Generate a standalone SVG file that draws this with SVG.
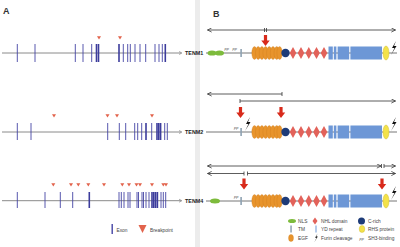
<svg xmlns="http://www.w3.org/2000/svg" xmlns:xlink="http://www.w3.org/1999/xlink" width="400" height="247" viewBox="0 0 400 247">
<style>
.gl{stroke:#8a8a8a;stroke-width:1;fill:none}
.ex{stroke:#4545a5;stroke-width:0.9}
.exk{stroke:#3c3c9c;stroke-width:1.6}
.bp{fill:#e2634c}
.lbl{font-family:"Liberation Sans",Arial,sans-serif;font-weight:bold;font-size:5.4px;fill:#222}
.pan{font-family:"Liberation Sans",Arial,sans-serif;font-weight:bold;font-size:9px;fill:#333}
.lg{font-family:"Liberation Sans",Arial,sans-serif;font-size:4.8px;fill:#444}
.pp{font-family:"Liberation Sans",Arial,sans-serif;font-style:italic;font-size:4px;fill:#444}
.pl{stroke:#777;stroke-width:1;fill:none}
.rng{stroke:#333;stroke-width:0.8;fill:none}
.tk{stroke:#333;stroke-width:0.8}
.egf{fill:#e8942c;stroke:#c77817;stroke-width:0.3}
.nhl{fill:#e2625a}
.cr{fill:#1d3b78}
.yd{fill:#6d97d6}
.rhs{fill:#f3e24a;stroke:#c9b52c;stroke-width:0.4}
.nls{fill:#7dbb3c}
.tm{fill:#8ea2b2}
.red{fill:#d82a1b}
.bolt{fill:#111}
</style>
<defs>
<marker id="ah" viewBox="0 0 6 6" refX="5.5" refY="3" markerWidth="5" markerHeight="5" markerUnits="userSpaceOnUse" orient="auto-start-reverse">
<path d="M0.5,0.5 L5.5,3 L0.5,5.5" fill="none" stroke="#333" stroke-width="0.9"/>
</marker>
<path id="bolt" d="M2.5,0 L-1.5,7 L1,7 L-2.5,14 L3,5 L0.5,5 Z"/>
<path id="rarr" d="M-1.6,0 H1.6 V5.5 H4.2 L0,11 L-4.2,5.5 H-1.6 Z"/>
<path id="tri" d="M-2,0 H2 L0,3.2 Z"/>
<g id="egfs">
<ellipse cx="254.5" cy="0" rx="2.7" ry="6.5"/>
<ellipse cx="258.2" cy="0" rx="2.7" ry="6.5"/>
<ellipse cx="261.9" cy="0" rx="2.7" ry="6.5"/>
<ellipse cx="265.6" cy="0" rx="2.7" ry="6.5"/>
<ellipse cx="269.3" cy="0" rx="2.7" ry="6.5"/>
<ellipse cx="273" cy="0" rx="2.7" ry="6.5"/>
<ellipse cx="276.7" cy="0" rx="2.7" ry="6.5"/>
<ellipse cx="279.6" cy="0" rx="2.7" ry="6.5"/>
</g>
<g id="core">
<use xlink:href="#egfs" class="egf"/>
<circle cx="285.5" cy="0" r="4.2" class="cr"/>
<path class="nhl" d="M293,-6 L296.3,0 L293,6 L289.7,0 Z M301,-6 L304.3,0 L301,6 L297.7,0 Z M308.8,-6 L312.1,0 L308.8,6 L305.5,0 Z M316.5,-6 L319.8,0 L316.5,6 L313.2,0 Z M324,-6 L327.3,0 L324,6 L320.7,0 Z"/>
<rect class="yd" x="328.5" y="-6.5" width="4.3" height="13"/>
<rect class="yd" x="333.8" y="-6.5" width="2.6" height="13"/>
<rect class="yd" x="337.6" y="-6.5" width="11.6" height="13"/>
<rect class="yd" x="350.4" y="-6.5" width="31.6" height="13"/>
<ellipse class="rhs" cx="386" cy="0" rx="3" ry="7"/>
<rect class="tm" x="240.3" y="-4" width="1.6" height="8"/>
</g>
</defs>

<rect x="195" y="0" width="5" height="247" fill="#ececec"/>
<text class="pan" x="3" y="14">A</text>
<text class="pan" x="213" y="17">B</text>

<!-- Panel A: gene structures -->
<g id="geneA_TENM1">
<line class="gl" x1="2" y1="53" x2="181" y2="53"/>
<path d="M179,51.5 L182,53 L179,54.5" fill="none" stroke="#8a8a8a" stroke-width="0.7"/>
<g class="ex">
<line x1="17.3" y1="44" x2="17.3" y2="62"/><line x1="35" y1="44" x2="35" y2="62"/>
<line x1="75.3" y1="44" x2="75.3" y2="62"/><line x1="83" y1="44" x2="83" y2="62"/>
<line x1="91.7" y1="44" x2="91.7" y2="62"/>
<line x1="123.3" y1="44" x2="123.3" y2="62"/><line x1="127.7" y1="44" x2="127.7" y2="62"/>
<line x1="130.3" y1="44" x2="130.3" y2="62"/><line x1="135" y1="44" x2="135" y2="62"/>
<line x1="140" y1="44" x2="140" y2="62"/><line x1="145.7" y1="44" x2="145.7" y2="62"/>
<line x1="155" y1="44" x2="155" y2="62"/><line x1="159" y1="44" x2="159" y2="62"/>
<line x1="162.3" y1="44" x2="162.3" y2="62"/>
</g>
<g class="exk">
<line x1="96.5" y1="44" x2="96.5" y2="62"/><line x1="98.5" y1="44" x2="98.5" y2="62"/>
<line x1="119" y1="44" x2="119" y2="62"/><line x1="165.3" y1="44" x2="165.3" y2="62"/>
</g>
<g class="bp"><use xlink:href="#tri" x="99" y="36.3"/><use xlink:href="#tri" x="120" y="36.3"/></g>
<text class="lbl" x="185" y="55">TENM1</text>
</g>

<g id="geneA_TENM2">
<line class="gl" x1="2" y1="132" x2="181" y2="132"/>
<path d="M179,130.5 L182,132 L179,133.5" fill="none" stroke="#8a8a8a" stroke-width="0.7"/>
<g class="ex">
<line x1="17.3" y1="123" x2="17.3" y2="140"/><line x1="31" y1="123" x2="31" y2="140"/>
<line x1="107.7" y1="123" x2="107.7" y2="140"/><line x1="119.3" y1="123" x2="119.3" y2="140"/>
<line x1="125.7" y1="123" x2="125.7" y2="140"/><line x1="134.7" y1="123" x2="134.7" y2="140"/>
<line x1="137.7" y1="123" x2="137.7" y2="140"/><line x1="141.7" y1="123" x2="141.7" y2="140"/>
<line x1="151.7" y1="123" x2="151.7" y2="140"/>
<line x1="164.7" y1="123" x2="164.7" y2="140"/><line x1="167.3" y1="123" x2="167.3" y2="140"/>
</g>
<g class="exk">
<line x1="146" y1="123" x2="146" y2="140"/>
<line x1="157" y1="123" x2="157" y2="140"/><line x1="158.8" y1="123" x2="158.8" y2="140"/>
<line x1="160.6" y1="123" x2="160.6" y2="140"/>
</g>
<g class="bp"><use xlink:href="#tri" x="54" y="114.2"/><use xlink:href="#tri" x="107.5" y="114.2"/><use xlink:href="#tri" x="117" y="114.2"/><use xlink:href="#tri" x="152" y="114.2"/></g>
<text class="lbl" x="185" y="134">TENM2</text>
</g>

<g id="geneA_TENM4">
<line class="gl" x1="2" y1="200.7" x2="181" y2="200.7"/>
<path d="M179,199.2 L182,200.7 L179,202.2" fill="none" stroke="#8a8a8a" stroke-width="0.7"/>
<g class="ex">
<line x1="17.3" y1="192" x2="17.3" y2="208"/><line x1="45" y1="192" x2="45" y2="208"/>
<line x1="60.3" y1="192" x2="60.3" y2="208"/><line x1="72.7" y1="192" x2="72.7" y2="208"/>
<line x1="119" y1="192" x2="119" y2="208"/><line x1="121.3" y1="192" x2="121.3" y2="208"/>
<line x1="124" y1="192" x2="124" y2="208"/><line x1="128" y1="192" x2="128" y2="208"/>
<line x1="130" y1="192" x2="130" y2="208"/><line x1="137" y1="192" x2="137" y2="208"/>
<line x1="138.5" y1="192" x2="138.5" y2="208"/><line x1="142" y1="192" x2="142" y2="208"/>
<line x1="143.5" y1="192" x2="143.5" y2="208"/><line x1="146" y1="192" x2="146" y2="208"/>
<line x1="149" y1="192" x2="149" y2="208"/><line x1="161" y1="192" x2="161" y2="208"/>
<line x1="163.3" y1="192" x2="163.3" y2="208"/><line x1="165.7" y1="192" x2="165.7" y2="208"/>
</g>
<g class="exk">
<line x1="89.3" y1="192" x2="89.3" y2="208"/>
<line x1="152" y1="192" x2="152" y2="208"/><line x1="153.8" y1="192" x2="153.8" y2="208"/>
<line x1="155.6" y1="192" x2="155.6" y2="208"/><line x1="157.4" y1="192" x2="157.4" y2="208"/>
</g>
<g class="bp">
<use xlink:href="#tri" x="53.3" y="183.2"/><use xlink:href="#tri" x="71" y="183.2"/><use xlink:href="#tri" x="78.3" y="183.2"/>
<use xlink:href="#tri" x="88.3" y="183.2"/><use xlink:href="#tri" x="104" y="183.2"/><use xlink:href="#tri" x="122.3" y="183.2"/>
<use xlink:href="#tri" x="129" y="183.2"/><use xlink:href="#tri" x="136.5" y="183.2"/><use xlink:href="#tri" x="140" y="183.2"/>
<use xlink:href="#tri" x="152" y="183.2"/><use xlink:href="#tri" x="163.3" y="183.2"/><use xlink:href="#tri" x="166" y="183.2"/>
</g>
<text class="lbl" x="185" y="203">TENM4</text>
</g>

<g id="legendA">
<rect x="111.5" y="224" width="1.4" height="10" fill="#4545a5"/>
<text class="lg" x="116.5" y="232">Exon</text>
<path class="bp" d="M138.5,225 H146.5 L142.5,233 Z"/>
<text class="lg" x="150" y="232">Breakpoint</text>
</g>

<!-- Panel B: protein structures -->
<g id="protB_TENM1">
<line class="pl" x1="206" y1="53" x2="397" y2="53"/>
<ellipse class="nls" cx="212" cy="53" rx="4.5" ry="2.6"/>
<ellipse class="nls" cx="219.5" cy="53" rx="4.5" ry="2.6"/>
<text class="pp" x="224.5" y="50">pp</text>
<text class="pp" x="232.5" y="50">pp</text>
<use xlink:href="#core" y="53"/>
<use xlink:href="#bolt" class="bolt" x="393.5" y="41"/>
</g>

<g id="protB_TENM2">
<line class="pl" x1="206" y1="132" x2="397" y2="132"/>
<text class="pp" x="234" y="129">pp</text>
<use xlink:href="#core" y="132"/>
<use xlink:href="#bolt" class="bolt" x="247.5" y="117"/>
<use xlink:href="#bolt" class="bolt" x="393.5" y="117"/>
</g>

<g id="protB_TENM4">
<line class="pl" x1="206" y1="201" x2="397" y2="201"/>
<ellipse class="nls" cx="215" cy="201" rx="5" ry="2.5"/>
<text class="pp" x="234" y="197.5">pp</text>
<use xlink:href="#core" y="201"/>
<use xlink:href="#bolt" class="bolt" x="393.5" y="186"/>
</g>

<g id="connectors">
<line class="rng" x1="207.5" y1="30" x2="395.5" y2="30" marker-start="url(#ah)" marker-end="url(#ah)"/>
<line class="tk" x1="264.5" y1="28" x2="264.5" y2="32"/><line class="tk" x1="266.5" y1="28" x2="266.5" y2="32"/>
<use xlink:href="#rarr" class="red" x="265.5" y="35"/>

<line class="rng" x1="207.5" y1="94" x2="282" y2="94" marker-start="url(#ah)"/>
<line class="tk" x1="282" y1="92" x2="282" y2="96"/>
<line class="rng" x1="240" y1="101" x2="395.5" y2="101" marker-end="url(#ah)"/>
<line class="tk" x1="240" y1="99" x2="240" y2="103"/>
<use xlink:href="#rarr" class="red" x="240.5" y="107"/>
<use xlink:href="#rarr" class="red" x="281" y="107"/>

<line class="rng" x1="207.5" y1="166" x2="381" y2="166" marker-start="url(#ah)" marker-end="url(#ah)"/>
<line class="tk" x1="381.5" y1="164" x2="381.5" y2="168"/>
<line class="rng" x1="384" y1="166" x2="395.5" y2="166" marker-end="url(#ah)"/>
<line class="tk" x1="384" y1="164" x2="384" y2="168"/>
<line class="rng" x1="207.5" y1="173.5" x2="244" y2="173.5" marker-start="url(#ah)"/>
<line class="tk" x1="244" y1="171.5" x2="244" y2="175.5"/>
<line class="rng" x1="247.5" y1="173.5" x2="395.5" y2="173.5" marker-end="url(#ah)"/>
<line class="tk" x1="247.5" y1="171.5" x2="247.5" y2="175.5"/>
<use xlink:href="#rarr" class="red" x="244" y="178.5"/>
<use xlink:href="#rarr" class="red" x="382" y="178.5"/>
</g>

<g id="legendB">
<ellipse class="nls" cx="292" cy="221" rx="4" ry="2"/>
<text class="lg" x="298" y="222.8">NLS</text>
<path class="nhl" d="M315,217.5 L317.5,221 L315,224.5 L312.5,221 Z"/>
<text class="lg" x="321" y="222.8">NHL domain</text>
<circle class="cr" cx="361.5" cy="221" r="3.5"/>
<text class="lg" x="368" y="222.8">C-rich</text>
<rect class="tm" x="290.3" y="225.5" width="1.5" height="7"/>
<text class="lg" x="298" y="230.8">TM</text>
<rect class="yd" x="315.5" y="225.5" width="1" height="7"/>
<text class="lg" x="321" y="230.8">YD repeat</text>
<ellipse class="rhs" cx="362" cy="229" rx="2.8" ry="3.5"/>
<text class="lg" x="368" y="230.8">RHS protein</text>
<ellipse class="egf" cx="291" cy="238" rx="2.5" ry="3.6"/>
<text class="lg" x="298" y="239.8">EGF</text>
<use xlink:href="#bolt" class="bolt" transform="translate(316,233.5) scale(0.6)"/>
<text class="lg" x="321" y="239.8">Furin cleavage</text>
<text class="pp" x="359.5" y="239.5">pp</text>
<text class="lg" x="368" y="239.8">SH3-binding</text>
</g>
</svg>
